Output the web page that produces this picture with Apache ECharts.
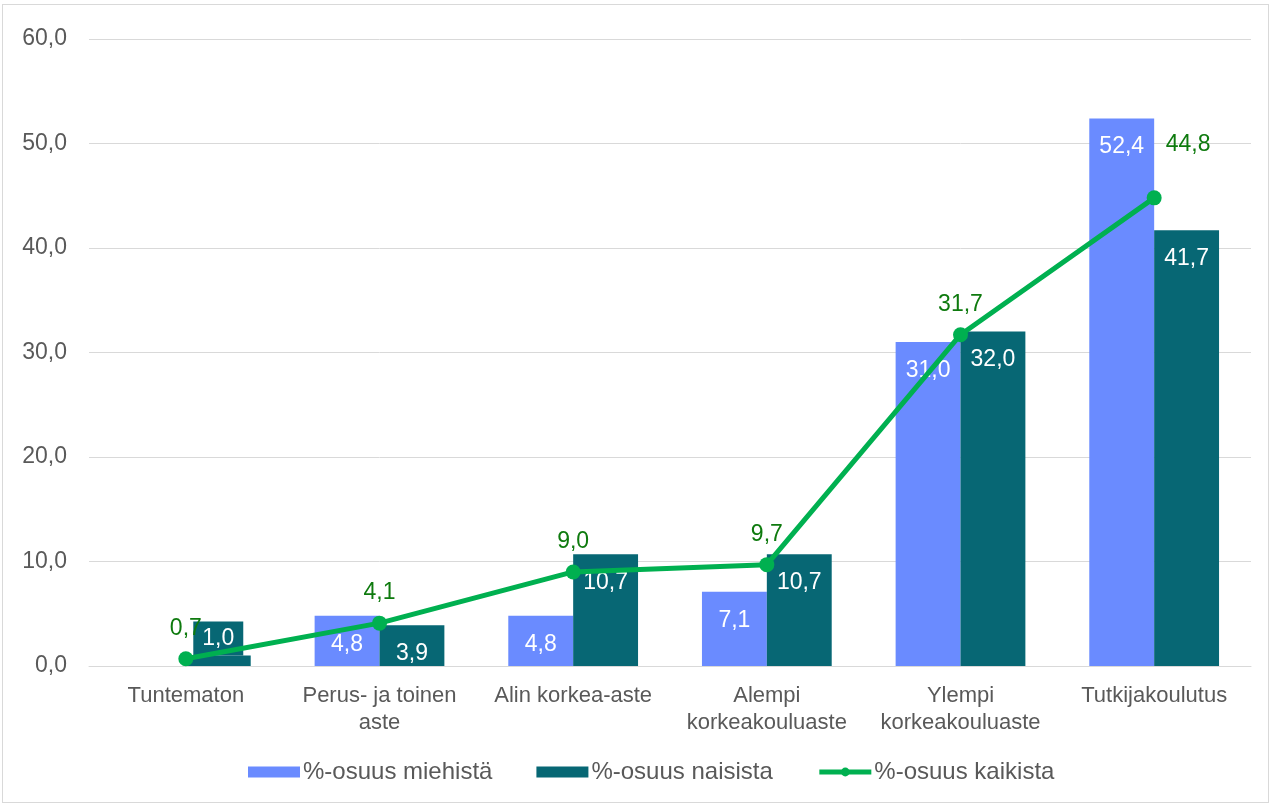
<!DOCTYPE html>
<html>
<head>
<meta charset="utf-8">
<script src="https://cdn.jsdelivr.net/npm/echarts@6/dist/echarts.min.js"></script>
<style>
  html, body { margin: 0; padding: 0; background: #fff; }
  #chart { position: absolute; left: 2px; top: 4px; width: 1267px; height: 799px; border: 1px solid #d9d9d9; box-sizing: border-box; }
</style>
</head>
<body>
<div id="chart"></div>
<script>
// Education levels
const categories = ['Tuntematon', 'Perus- ja toinen\naste', 'Alin korkea-aste', 'Alempi\nkorkeakouluaste', 'Ylempi\nkorkeakouluaste', 'Tutkijakoulutus'];
// Share of men / women / everyone per level (%)
const menShare = [null, 4.8, 4.8, 7.1, 31.0, 52.4];
const womenShare = [1.0, 3.9, 10.7, 10.7, 32.0, 41.7];
const allShare = [0.7, 4.1, 9.0, 9.7, 31.7, 44.8];
const seriesNames = ['%-osuus miehistä', '%-osuus naisista', '%-osuus kaikista'];
const yTicks = [0, 10, 20, 30, 40, 50, 60];

const fmt = v => (v == null ? '' : Number(v).toFixed(1).replace('.', ','));
const FONT = 'Liberation Sans, Arial, sans-serif';
const BLUE = '#6a8bff';
const TEAL = '#076774';
const GREEN = '#00b050';

const chart = echarts.init(document.getElementById('chart'), null, { renderer: 'canvas' });

const barLabel = {
  show: true, position: 'insideTop', distance: 17, color: '#ffffff',
  fontFamily: FONT, fontSize: 23, formatter: p => fmt(p.value)
};

const womenData = womenShare.map((v, i) => i === 0 ? {
  value: v,
  label: { position: 'top', distance: 0, backgroundColor: TEAL, lineHeight: 23, padding: [6, 9, 5, 9] }
} : v);

const allData = allShare.map((v, i) => i === allShare.length - 1 ? {
  value: v, label: { offset: [34, -23] }
} : v);

chart.setOption({
  animation: false,
  textStyle: { fontFamily: FONT },
  grid: { left: 86, right: 17, top: 34, bottom: 136, containLabel: false },
  legend: {
    bottom: 13, left: 240, itemWidth: 52, itemHeight: 11, itemGap: 44,
    textStyle: { fontFamily: FONT, fontSize: 24, color: '#595959', padding: [0, 0, 0, -2] },
    data: [
      { name: seriesNames[0], icon: 'rect' },
      { name: seriesNames[1], icon: 'rect' },
      { name: seriesNames[2], lineStyle: { width: 5 }, itemStyle: { color: GREEN } }
    ]
  },
  xAxis: {
    type: 'category', data: categories,
    axisLine: { lineStyle: { color: '#d9d9d9', width: 1 } },
    axisTick: { show: false },
    axisLabel: { color: '#595959', fontSize: 22, fontFamily: FONT, margin: 16, lineHeight: 27, interval: 0 }
  },
  yAxis: {
    type: 'value', min: 0, max: 60, interval: 10,
    axisLine: { show: false }, axisTick: { show: false },
    splitLine: { lineStyle: { color: '#d9d9d9', width: 1 } },
    axisLabel: { color: '#595959', fontSize: 23, fontFamily: FONT, margin: 22, formatter: v => fmt(v) }
  },
  series: [
    {
      name: seriesNames[0], type: 'bar', data: menShare, barGap: '0%', barCategoryGap: '33%',
      itemStyle: { color: BLUE }, label: barLabel
    },
    {
      name: seriesNames[1], type: 'bar', data: womenData,
      itemStyle: { color: TEAL }, label: barLabel
    },
    {
      name: seriesNames[2], type: 'line', data: allData, symbol: 'circle', symbolSize: 15,
      lineStyle: { color: GREEN, width: 5 }, itemStyle: { color: GREEN },
      label: { show: true, position: 'top', distance: 11, color: '#0e7a0e', fontSize: 23, fontFamily: FONT, formatter: p => fmt(p.value) },
      z: 5
    }
  ]
});
</script>
</body>
</html>
